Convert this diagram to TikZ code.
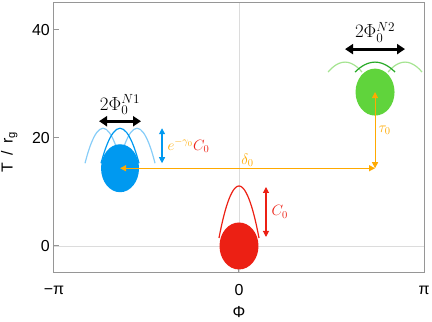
\documentclass[tikz,border=0pt]{standalone}
\usepackage{fix-cm}
\usepackage{fontspec}
\usepackage{amsmath}
\usetikzlibrary{arrows.meta, positioning}
\newfontfamily\axisfont{Liberation Sans}
\definecolor{blobred}{RGB}{236, 32, 20}
\definecolor{blobblue}{RGB}{0, 153, 240}
\definecolor{paleblue}{RGB}{135, 205, 248}
\definecolor{blobgreen}{RGB}{96, 212, 60}
\definecolor{deepgreen}{RGB}{40, 170, 40}
\definecolor{palegreen}{RGB}{165, 228, 145}
\definecolor{shiftorange}{RGB}{255, 170, 0}
\definecolor{framegray}{RGB}{150, 150, 150}
\definecolor{gridgray}{RGB}{220, 220, 220}

\begin{document}
\begin{tikzpicture}[x=58.9bp, y=5.4bp, >=Stealth,
    axislabel/.style={font=\axisfont\fontsize{16}{18}\selectfont, inner sep=1bp},
    mathlabel/.style={font=\fontsize{15}{17}\selectfont, inner sep=1bp},
    phaselabel/.style={font=\fontsize{19}{21}\selectfont, inner sep=1bp},
    arcline/.style={line width=1.2bp},
    smallarrow/.style={line width=1.1bp, {Triangle[width=6bp,length=6bp]}-{Triangle[width=6bp,length=6bp]}},
    widearrow/.style={line width=3bp, {Triangle[width=10bp,length=8bp]}-{Triangle[width=10bp,length=8bp]}}]
  \useasboundingbox (-4.058,-14.074) rectangle (3.277,45.556);
  % Frame and grid
  \draw[gridgray, line width=0.8bp] (0,-5) -- (0,45);
  \draw[gridgray, line width=0.8bp] (-3.1416,0) -- (3.1416,0);
  \draw[framegray, line width=1bp] (-3.1416,-5) rectangle (3.1416,45);
  \foreach \t in {0,20,40}{
    \draw[framegray, line width=1bp] (-3.1416,\t) -- ++(5bp,0);
    \node[axislabel, left=3bp] at (-3.1416,\t) {\t};
  }
  \foreach \p/\s in {-3.1416/−π, 0/0, 3.1416/π}{
    \draw[framegray, line width=1bp] (\p,-5) -- ++(0,5bp);
    \node[axislabel] at (\p,-8.15) {\s};
  }
  \node[axislabel] (philabel) at (0,-12.2) {Φ};
  \node[axislabel, rotate=90] (tlabel) at (-3.9,17.4) {T \,/\, r\textsubscript{g}};
  % Blob centres
  \coordinate (red) at (0,0);
  \coordinate (blue) at (-2.02,14.4);
  \coordinate (green) at (2.31,28.5);
  \coordinate (corner) at (2.31,14.4);
  % Potential wells
  \draw[blobred, arcline] ([shift={(-20bp,8bp)}]red) parabola bend ([shift={(0,60bp)}]red) ([shift={(20bp,8bp)}]red);
  \foreach \a/\b/\c in {-35/-17/1, -1/17/35}{
    \draw[paleblue, arcline] ([shift={(\a bp,5bp)}]blue) parabola bend ([shift={(\b bp,40bp)}]blue) ([shift={(\c bp,5bp)}]blue);
  }
  \draw[blobblue, arcline] ([shift={(-19bp,5bp)}]blue) parabola bend ([shift={(0,40bp)}]blue) ([shift={(19bp,5bp)}]blue);
  \foreach \a/\b/\c in {-47/-30/-13, 13/30/47}{
    \draw[palegreen, arcline] ([shift={(\a bp,20bp)}]green) parabola bend ([shift={(\b bp,30bp)}]green) ([shift={(\c bp,20bp)}]green);
  }
  \draw[deepgreen, arcline] ([shift={(-20bp,20bp)}]green) parabola bend ([shift={(0,30bp)}]green) ([shift={(20bp,20bp)}]green);
  % Blobs
  \fill[blobred] (red) ellipse [x radius=19.5bp, y radius=23.5bp];
  \fill[blobblue] (blue) ellipse [x radius=19bp, y radius=24bp];
  \fill[blobgreen] (green) ellipse [x radius=19.5bp, y radius=23.5bp];
  % Heights
  \draw[blobred, smallarrow] ([shift={(27bp,9bp)}]red) -- node[mathlabel, right=4bp] {$C_0$} ([shift={(27bp,59bp)}]red);
  \draw[blobblue, smallarrow] ([shift={(42bp,5bp)}]blue) -- node[mathlabel, right=4bp] {$\textcolor{shiftorange}{e^{-\gamma_0}}\textcolor{blobred}{C_0}$} ([shift={(42bp,40bp)}]blue);
  % Shifts
  \draw[shiftorange, smallarrow] (blue) -- node[mathlabel, above=0bp] {$\delta_0$} (corner);
  \draw[shiftorange, smallarrow] (corner) -- node[mathlabel, right=2bp] {$\tau_0$} (green);
  % Widths
  \draw[black, widearrow] ([shift={(-21bp,47bp)}]blue) -- node[phaselabel, above=4bp] {$2\Phi_0^{N1}$} ([shift={(21bp,47bp)}]blue);
  \draw[black, widearrow] ([shift={(-30bp,43bp)}]green) -- node[phaselabel, above=4bp] {$2\Phi_0^{N2}$} ([shift={(30bp,43bp)}]green);
\end{tikzpicture}
\end{document}
